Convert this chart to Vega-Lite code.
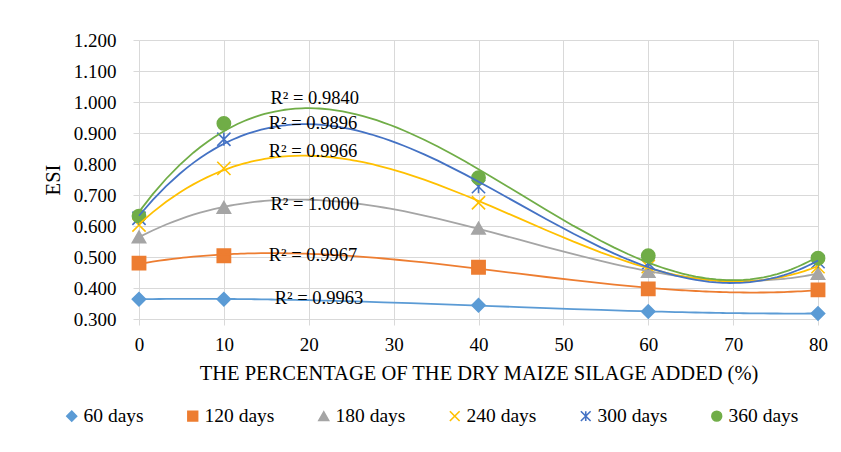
{
  "$schema": "https://vega.github.io/schema/vega-lite/v6.json",
  "width": 679,
  "height": 279,
  "autosize": {"type": "none"},
  "padding": {"left": 139, "top": 40, "right": 23, "bottom": 133},
  "background": "white",
  "config": {
    "font": "Liberation Serif",
    "view": {"stroke": null},
    "axis": {
      "labelFont": "Liberation Serif",
      "labelFontSize": 19,
      "labelColor": "#000000",
      "titleFont": "Liberation Serif",
      "titleFontSize": 20.5,
      "titleFontWeight": "normal",
      "titleColor": "#000000",
      "gridColor": "#D9D9D9",
      "gridWidth": 1,
      "gridOpacity": 1,
      "domain": false,
      "tickColor": "#D9D9D9",
      "tickSize": 6,
      "tickWidth": 1
    }
  },
  "datasets": {
    "points": [
      {"series": "60 days", "pct": 0, "esi": 0.364},
      {"series": "60 days", "pct": 10, "esi": 0.364},
      {"series": "60 days", "pct": 40, "esi": 0.344},
      {"series": "60 days", "pct": 60, "esi": 0.324},
      {"series": "60 days", "pct": 80, "esi": 0.318},
      {"series": "120 days", "pct": 0, "esi": 0.480},
      {"series": "120 days", "pct": 10, "esi": 0.504},
      {"series": "120 days", "pct": 40, "esi": 0.467},
      {"series": "120 days", "pct": 60, "esi": 0.397},
      {"series": "120 days", "pct": 80, "esi": 0.394},
      {"series": "180 days", "pct": 0, "esi": 0.565},
      {"series": "180 days", "pct": 10, "esi": 0.660},
      {"series": "180 days", "pct": 40, "esi": 0.593},
      {"series": "180 days", "pct": 60, "esi": 0.453},
      {"series": "180 days", "pct": 80, "esi": 0.447},
      {"series": "240 days", "pct": 0, "esi": 0.603},
      {"series": "240 days", "pct": 10, "esi": 0.786},
      {"series": "240 days", "pct": 40, "esi": 0.675},
      {"series": "240 days", "pct": 60, "esi": 0.469},
      {"series": "240 days", "pct": 80, "esi": 0.469},
      {"series": "300 days", "pct": 0, "esi": 0.625},
      {"series": "300 days", "pct": 10, "esi": 0.880},
      {"series": "300 days", "pct": 40, "esi": 0.727},
      {"series": "300 days", "pct": 60, "esi": 0.480},
      {"series": "300 days", "pct": 80, "esi": 0.485},
      {"series": "360 days", "pct": 0, "esi": 0.632},
      {"series": "360 days", "pct": 10, "esi": 0.931},
      {"series": "360 days", "pct": 40, "esi": 0.756},
      {"series": "360 days", "pct": 60, "esi": 0.504},
      {"series": "360 days", "pct": 80, "esi": 0.496}
    ],
    "labels": [
      {"pct": 20.7, "esi": 1.014, "label": "R² = 0.9840"},
      {"pct": 20.5, "esi": 0.932, "label": "R² = 0.9896"},
      {"pct": 20.5, "esi": 0.841, "label": "R² = 0.9966"},
      {"pct": 20.7, "esi": 0.670, "label": "R² = 1.0000"},
      {"pct": 20.5, "esi": 0.506, "label": "R² = 0.9967"},
      {"pct": 21.2, "esi": 0.367, "label": "R² = 0.9963"}
    ]
  },
  "layer": [
    {
      "data": {"name": "points"},
      "mark": {"type": "point", "filled": true, "size": 175, "opacity": 1, "strokeWidth": 1.6},
      "encoding": {
        "x": {
          "field": "pct", "type": "quantitative",
          "scale": {"domain": [0, 80], "nice": false},
          "axis": {"tickCount": 8, "title": "THE PERCENTAGE OF THE DRY MAIZE SILAGE ADDED (%)", "labelPadding": 10, "titlePadding": 9, "labelOverlap": false, "labelFlush": false}
        },
        "y": {
          "field": "esi", "type": "quantitative",
          "scale": {"domain": [0.3, 1.2], "nice": false, "zero": false},
          "axis": {"tickCount": 9, "format": ".3f", "title": "ESI", "labelPadding": 17, "titlePadding": 10, "labelOverlap": false, "labelSeparation": 0, "labelBound": false}
        },
        "color": {
          "field": "series", "type": "nominal",
          "scale": {
            "domain": ["60 days", "120 days", "180 days", "240 days", "300 days", "360 days"],
            "range": ["#5B9BD5", "#ED7D31", "#A5A5A5", "#FFC000", "#4472C4", "#70AD47"]
          },
          "legend": {
            "title": null,
            "orient": "none",
            "legendX": -77,
            "legendY": 366,
            "direction": "horizontal",
            "columns": 6,
            "columnPadding": 39,
            "labelFont": "Liberation Serif",
            "labelFontSize": 19.5,
            "labelColor": "#000000",
            "labelOffset": 2,
            "symbolSize": 95,
            "symbolStrokeWidth": 1.6,
            "encode": {"symbols": {"update": {"stroke": {"scale": "color", "field": "value"}}}}
          }
        },
        "shape": {
          "field": "series", "type": "nominal",
          "scale": {
            "domain": ["60 days", "120 days", "180 days", "240 days", "300 days", "360 days"],
            "range": ["diamond", "square", "triangle-up", "M-1,-1L1,1M1,-1L-1,1", "M-1,-1L1,1M1,-1L-1,1M0,-1L0,1", "circle"]
          }
        },
        "stroke": {
          "field": "series", "type": "nominal",
          "scale": {
            "domain": ["60 days", "120 days", "180 days", "240 days", "300 days", "360 days"],
            "range": ["#5B9BD5", "#ED7D31", "#A5A5A5", "#FFC000", "#4472C4", "#70AD47"]
          },
          "legend": null
        }
      }
    },
    {
      "data": {"name": "points"},
      "transform": [
        {"regression": "esi", "on": "pct", "groupby": ["series"], "method": "poly", "order": 3, "extent": [0, 80]}
      ],
      "mark": {"type": "line", "strokeWidth": 1.8},
      "encoding": {
        "x": {"field": "pct", "type": "quantitative"},
        "y": {"field": "esi", "type": "quantitative"},
        "color": {"field": "series", "type": "nominal", "legend": null}
      }
    },
    {
      "data": {"name": "labels"},
      "mark": {"type": "text", "font": "Liberation Serif", "fontSize": 18.5, "color": "#000000"},
      "encoding": {
        "x": {"field": "pct", "type": "quantitative"},
        "y": {"field": "esi", "type": "quantitative"},
        "text": {"field": "label", "type": "nominal"}
      }
    }
  ]
}
